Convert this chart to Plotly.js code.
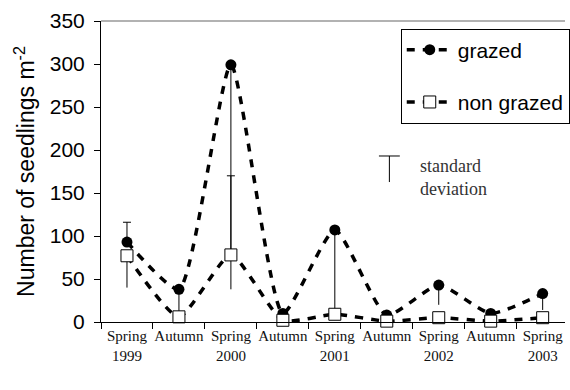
<!DOCTYPE html>
<html>
<head>
<meta charset="utf-8">
<script src="https://cdn.plot.ly/plotly-3.0.1.min.js"></script>
<style>
  html, body { margin: 0; padding: 0; background: #fff; }
  #chart { width: 570px; height: 390px; }
</style>
</head>
<body>
<div id="chart"></div>
<script>
// Sampling dates (spring / autumn census)
const seasons = ["Spring<br>1999", "Autumn", "Spring<br>2000", "Autumn", "Spring<br>2001",
                 "Autumn", "Spring<br>2002", "Autumn", "Spring<br>2003"];
const xPos = [0, 1, 2, 3, 4, 5, 6, 7, 8];

// Mean seedling density (seedlings per m2)
const grazed    = [93, 38, 299, 10, 107, 8, 43, 10, 33];
const nonGrazed = [77, 6, 78, 2, 9, 1, 5, 1, 5];

// Standard deviation drawn with a cap (upper side)
const grazedSdCapped    = [23, 0, 0, 0, 0, 0, 0, 0, 0];
const nonGrazedSdCapped = [0, 0, 92, 0, 0, 0, 0, 0, 0];

// Standard deviation drawn as a plain line (lower side)
const grazedSdLower    = [0, 28, 220, 0, 95, 0, 23, 0, 19];
const nonGrazedSdLower = [37, 0, 40, 0, 0, 0, 0, 0, 0];

const yTicks = [0, 50, 100, 150, 200, 250, 300, 350];
const boundaries = [-0.5, 0.5, 1.5, 2.5, 3.5, 4.5, 5.5, 6.5, 7.5];

const zeros = xPos.map(() => 0);

function lowerLine(values, sd) {
  return {
    x: xPos, y: values, type: 'scatter', mode: 'markers',
    marker: { size: 1, color: 'rgba(0,0,0,0)' },
    showlegend: false, hoverinfo: 'skip', cliponaxis: false,
    error_y: { type: 'data', symmetric: false, array: zeros, arrayminus: sd,
               width: 0, thickness: 1, color: '#000' }
  };
}

const seriesLine = { color: '#000', width: 3.5, dash: '8px,8px', shape: 'spline', smoothing: 0.55 };

const traces = [
  lowerLine(grazed, grazedSdLower),
  lowerLine(nonGrazed, nonGrazedSdLower),
  {
    x: xPos, y: grazed, name: 'grazed', type: 'scatter', mode: 'lines+markers',
    legendgroup: 'g', cliponaxis: false,
    line: seriesLine,
    marker: { symbol: 'circle', size: 11, color: '#000' },
    error_y: { type: 'data', symmetric: false, array: grazedSdCapped, arrayminus: zeros,
               width: 4, thickness: 1, color: '#000' }
  },
  {
    x: xPos, y: nonGrazed, name: 'non grazed', type: 'scatter', mode: 'lines+markers',
    legendgroup: 'n', cliponaxis: false,
    line: seriesLine,
    marker: { symbol: 'square', size: 12, color: '#fff', line: { color: '#000', width: 1 } },
    error_y: { type: 'data', symmetric: false, array: nonGrazedSdCapped, arrayminus: zeros,
               width: 4, thickness: 1, color: '#000' }
  }
];

const layout = {
  width: 570, height: 390,
  margin: { l: 101, r: 0, t: 21, b: 68 },
  paper_bgcolor: '#fff', plot_bgcolor: '#fff',
  font: { family: 'Liberation Sans, Arial, sans-serif', color: '#000' },
  xaxis: {
    range: [-0.5, 8.43],
    tickmode: 'array', tickvals: xPos, ticktext: seasons,
    ticks: '', showgrid: false, zeroline: false,
    showline: true, linecolor: '#000', linewidth: 1,
    tickfont: { family: 'Liberation Serif, Times New Roman, serif', size: 15, color: '#111' },
    minor: { tickmode: 'array', tickvals: boundaries, ticks: 'outside', ticklen: 6,
             tickcolor: '#000', showgrid: false }
  },
  yaxis: {
    range: [0, 350],
    tickmode: 'array', tickvals: yTicks,
    ticks: 'outside', ticklen: 6, tickcolor: '#000',
    showgrid: false, zeroline: false,
    showline: true, linecolor: '#000', linewidth: 1,
    ticklabelstandoff: 5,
    tickfont: { size: 21, color: '#000' },
    title: { text: 'Number of seedlings m<sup>-2</sup>', font: { size: 23 }, standoff: 8 }
  },
  legend: {
    x: 0.646, y: 0.975, xanchor: 'left', yanchor: 'top',
    bgcolor: '#fff', bordercolor: '#000', borderwidth: 1,
    font: { size: 21, color: '#000' },
    itemwidth: 46,
    traceorder: 'grouped', tracegroupgap: 22
  },
  shapes: [
    // light frame line along the top of the plot area
    { type: 'line', xref: 'paper', yref: 'paper', x0: 0, x1: 1, y0: 1, y1: 1,
      line: { color: '#999', width: 1.5 } },
    // key symbol for the standard deviation bars
    { type: 'line', xref: 'paper', yref: 'paper', x0: 0.599, x1: 0.644, y0: 0.5515, y1: 0.5515,
      line: { color: '#000', width: 1 } },
    { type: 'line', xref: 'paper', yref: 'paper', x0: 0.6215, x1: 0.6215, y0: 0.5515, y1: 0.465,
      line: { color: '#000', width: 1 } }
  ],
  annotations: [
    { xref: 'paper', yref: 'paper', x: 0.684, y: 0.48, xanchor: 'left', yanchor: 'middle',
      align: 'left', showarrow: false, text: 'standard<br>deviation',
      font: { family: 'Liberation Serif, Times New Roman, serif', size: 18, color: '#333' } }
  ]
};

Plotly.newPlot('chart', traces, layout, { displayModeBar: false, staticPlot: true });
</script>
</body>
</html>
